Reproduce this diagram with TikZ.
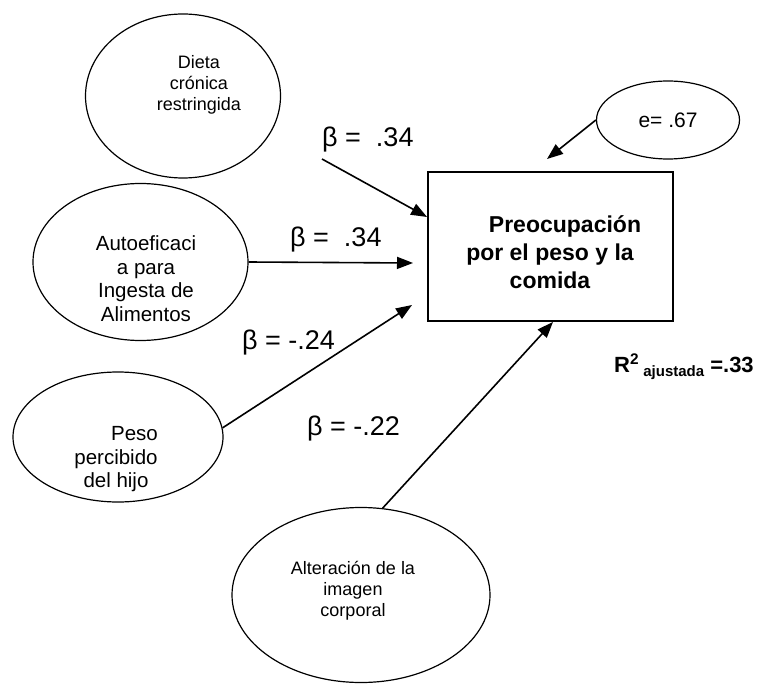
\documentclass[tikz,border=0pt]{standalone}
\usepackage{fontspec}
\setmainfont{Liberation Sans}
\usetikzlibrary{arrows.meta}
\usetikzlibrary{shapes.geometric}

\begin{document}
\begin{tikzpicture}[x=1pt,y=-1pt,>={Triangle[length=16pt,width=12pt]},
    var node/.style={ellipse,draw,line width=1.2pt,inner sep=0pt},
    small text/.style={align=center,font=\fontsize{18}{21}\selectfont},
    large text/.style={align=center,font=\fontsize{20.5}{23.7}\selectfont},
    coef/.style={anchor=base west,inner sep=0pt,font=\fontsize{27}{32}\selectfont}]

  \useasboundingbox (0,0) rectangle (759,684);

  % predictors
  \node[var node,minimum width=195pt,minimum height=164pt] (dieta) at (183,96) {};
  \node[small text] (dieta txt) at (199,84.5) {Dieta\\crónica\\restringida};

  \node[var node,minimum width=215pt,minimum height=157pt] (autoef) at (140.5,262) {};
  \node[large text] (autoef txt) at (146,278.7) {Autoeficaci\\a para\\Ingesta de\\Alimentos};

  \node[var node,minimum width=210pt,minimum height=130pt] (peso) at (118,437) {};
  \node[large text] (peso txt) at (116,459.3) {\hspace*{37pt}Peso\\percibido\\del hijo};

  \node[var node,minimum width=258pt,minimum height=175pt] (alter) at (361,595) {};
  \node[small text] (alter txt) at (353,590.8) {Alteración de la\\imagen\\corporal};

  % outcome and its error
  \node[draw,line width=1.8pt,inner sep=0pt,minimum width=245pt,minimum height=149pt] (preoc) at (550.5,246.5) {};
  \node[align=center,font=\fontsize{23}{28}\selectfont\bfseries] (preoc txt) at (550,252)
    {\hspace*{30pt}Preocupación\\por el peso y la\\comida};

  \node[var node,minimum width=143pt,minimum height=78pt,font=\fontsize{21}{25}\selectfont] (err) at (668,120) {e= .67};

  % free ends of the paths
  \coordinate (p1 start) at (322,159);
  \coordinate (p2 end) at (413,263);
  \coordinate (p3 end) at (412,305);
  \coordinate (e end) at (547,159);

  \path[->,line width=1.6pt]
    (p1 start) edge ([yshift=29.5pt]preoc.west)
    (autoef.east) edge (p2 end)
    (peso.5) edge (p3 end)
    (alter.76) edge ([xshift=2.5pt]preoc.south)
    (err.west) edge (e end);

  % path coefficients
  \node[coef] (b1) at (322,147) {β =\ \ .34};
  \node[coef] (b2) at (290,247) {β =\ \ .34};
  \node[coef] (b3) at (242,349) {β = -.24};
  \node[coef] (b4) at (307,435) {β = -.22};

  \node[anchor=base west,inner sep=0pt,font=\fontsize{22}{26}\selectfont\bfseries] (r2) at (614,372)
    {R\textsuperscript{2}\raisebox{-4pt}{\fontsize{15}{18}\selectfont\bfseries\ ajustada} =.33};
\end{tikzpicture}
\end{document}
